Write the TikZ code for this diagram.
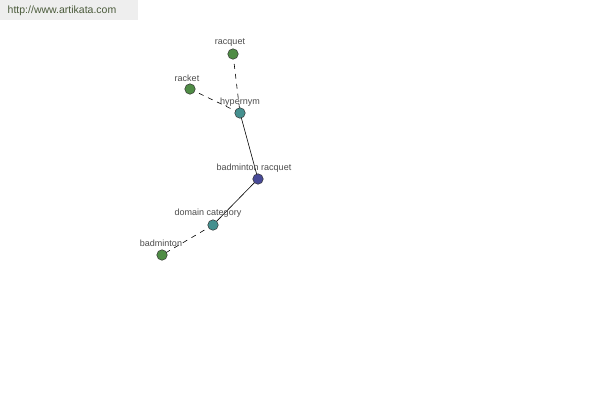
\documentclass[tikz,border=0pt]{standalone}
\usepackage{fontspec}
\setmainfont{Liberation Sans}
\begin{document}
\begin{tikzpicture}[x=1pt,y=-1pt,
  dot/.style={circle,draw=black!80,line width=0.5pt,minimum size=10.5pt,inner sep=0pt},
  lbl/.style={font=\fontsize{9}{10}\selectfont,text=black!70,inner sep=0pt},
  dashedge/.style={dash pattern=on 5pt off 5pt,line width=0.6pt},
  solidedge/.style={line width=0.6pt}]
\definecolor{c1}{HTML}{4F8C45}
\definecolor{c2}{HTML}{45908F}
\definecolor{c3}{HTML}{484A97}
\definecolor{hdr}{HTML}{EEEEEE}
\definecolor{hdrtext}{HTML}{4A5A3A}
\useasboundingbox (0,0) rectangle (600,400);
\fill[white] (0,0) rectangle (600,400);
\fill[hdr] (0,0) rectangle (138,20);
\node[font=\fontsize{10.5}{12}\selectfont,text=hdrtext,inner sep=0pt] (url) at (62,11) {http://www.artikata.com};
\coordinate (pracquet) at (233,54);
\coordinate (pracket) at (190,89);
\coordinate (phyper) at (240,113);
\coordinate (pbr) at (258,179);
\coordinate (pdom) at (213,225);
\coordinate (pbad) at (162,255);
\draw[dashedge] (pracquet) -- (phyper);
\draw[dashedge] (pracket) -- (phyper);
\draw[solidedge] (phyper) -- (pbr);
\draw[solidedge] (pbr) -- (pdom);
\draw[dashedge] (pdom) -- (pbad);
\node[dot,fill=c1] (racquet) at (pracquet) {};
\node[dot,fill=c1] (racket) at (pracket) {};
\node[dot,fill=c2] (hyper) at (phyper) {};
\node[dot,fill=c3] (br) at (pbr) {};
\node[dot,fill=c2] (dom) at (pdom) {};
\node[dot,fill=c1] (bad) at (pbad) {};
\node[lbl] (lracquet) at (230,43) {racquet};
\node[lbl] (lracket) at (187,78) {racket};
\node[lbl] (lhyper) at (240,102) {hypernym};
\node[lbl] (lbr) at (254,168) {badminton racquet};
\node[lbl] (ldom) at (208,213) {domain category};
\node[lbl] (lbad) at (161,243) {badminton};
\end{tikzpicture}
\end{document}
